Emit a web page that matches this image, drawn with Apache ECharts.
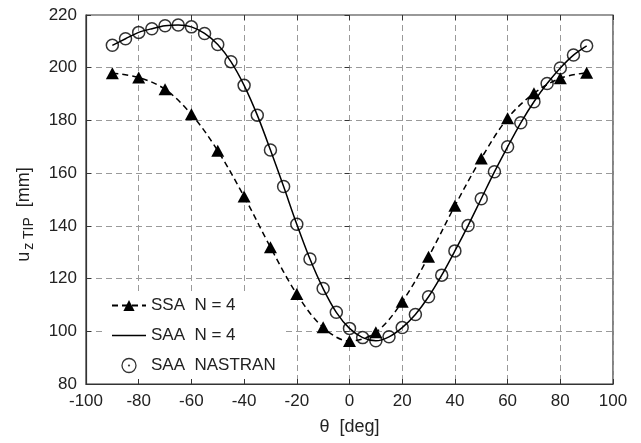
<!DOCTYPE html>
<html>
<head>
<meta charset="utf-8">
<script src="https://cdn.jsdelivr.net/npm/echarts@6/dist/echarts.min.js"></script>
<style>
html,body{margin:0;padding:0;background:#fff;}
#chart{width:641px;height:443px;}
</style>
</head>
<body>
<div id="chart"></div>
<script>
// θ [deg] sampling for the SAA curves (every 5 deg)
var theta5 = [-90,-85,-80,-75,-70,-65,-60,-55,-50,-45,-40,-35,-30,-25,-20,-15,-10,-5,0,5,10,15,20,25,30,35,40,45,50,55,60,65,70,75,80,85,90];
// SAA NASTRAN (circles)
var saaNastran = [208.5,211,213.4,214.8,215.9,216.2,215.5,213,208.8,202.3,193.3,182,168.8,154.9,140.6,127.4,116.2,107.2,101.1,97.6,96.4,97.9,101.4,106.4,113.1,121.3,130.5,140.1,150.3,160.5,170.0,179.1,187.1,194.0,199.9,204.8,208.3];
// SAA N = 4 (solid line)
var saaN4 = [208.5,211,213.4,214.8,215.9,216.2,215.5,213,208.8,202.3,193.3,182,168.8,154.9,140.6,127.4,116.2,107.2,101.1,97.6,96.4,97.9,101.4,106.4,113.1,121.3,130.5,140.1,150.3,160.5,170.0,179.1,187.1,194.0,199.9,204.8,208.3];
// θ sampling for SSA (every 10 deg)
var theta10 = [-90,-80,-70,-60,-50,-40,-30,-20,-10,0,10,20,30,40,50,60,70,80,90];
// SSA N = 4 (dashed with triangles)
var ssaN4 = [197.9,196.3,191.8,182.3,168.5,151.1,131.9,114.1,101.5,96.3,99.6,111.2,128.3,147.6,165.6,180.8,190.3,196.0,198.1];

var seriesNames = ['SSA  N = 4', 'SAA  N = 4', 'SAA  NASTRAN'];
var xTicks = {min: -100, max: 100, interval: 20};
var yTicks = {min: 80, max: 220, interval: 20};

function pairs(xs, ys){ return xs.map(function(x,i){ return [x, ys[i]]; }); }

var FONT = 'Liberation Sans, Arial, Helvetica, sans-serif';
var chart = echarts.init(document.getElementById('chart'), null, {renderer:'canvas'});
var gridLine = {show:true, lineStyle:{color:'#9a9a9a', width:1, type:[6,4]}};

chart.setOption({
  animation:false,
  backgroundColor:'#fff',
  textStyle:{fontFamily:FONT},
  grid:{left:86, right:28, top:15, bottom:59, show:true, borderColor:'#333', borderWidth:1.2, backgroundColor:'transparent'},
  legend:{
    left:104, top:292, orient:'vertical',
    padding:[5,9,5,7], itemGap:13, itemWidth:34, itemHeight:14,
    backgroundColor:'#fff',
    textStyle:{fontFamily:FONT, fontSize:17, color:'#222'},
    data:[
      {name:seriesNames[0]},
      {name:seriesNames[1], icon:'path://M0,0H34V1.5H0Z', itemStyle:{color:'#000', borderWidth:0}},
      {name:seriesNames[2], icon:'path://M0,-6A6,6 0 1 1 0,6A6,6 0 1 1 0,-6Z M0,-0.4A0.4,0.4 0 1 1 0,0.4A0.4,0.4 0 1 1 0,-0.4Z',
       itemStyle:{color:'transparent', borderColor:'#000', borderWidth:1.3}}
    ]
  },
  xAxis:[{
    type:'value', min:xTicks.min, max:xTicks.max, interval:xTicks.interval,
    name:'θ  [deg]', nameLocation:'middle', nameGap:34,
    nameTextStyle:{fontFamily:FONT, fontSize:18, color:'#222'},
    axisLine:{show:true, onZero:false, lineStyle:{color:'#333', width:1.2}},
    axisTick:{show:true, inside:true, length:5, lineStyle:{color:'#333'}},
    axisLabel:{fontFamily:FONT, fontSize:17, color:'#222', margin:9},
    splitLine:gridLine
  },{
    type:'value', position:'top', min:xTicks.min, max:xTicks.max, interval:xTicks.interval,
    axisLine:{show:false}, axisTick:{show:true, inside:true, length:5, lineStyle:{color:'#333'}},
    axisLabel:{show:false}, splitLine:{show:false}
  }],
  yAxis:[{
    type:'value', min:yTicks.min, max:yTicks.max, interval:yTicks.interval,
    name:'{m|u}{s|z TIP}{m|  [mm]}', nameLocation:'middle', nameGap:52,
    nameTextStyle:{fontFamily:FONT, color:'#222', padding:[0,30,0,0],
      rich:{m:{fontFamily:FONT, fontSize:18, color:'#222', lineHeight:20},
            s:{fontFamily:FONT, fontSize:14, color:'#222', lineHeight:20, padding:[10,0,0,2]}}},
    axisLine:{show:true, onZero:false, lineStyle:{color:'#333', width:1.2}},
    axisTick:{show:true, inside:true, length:5, lineStyle:{color:'#333'}},
    axisLabel:{fontFamily:FONT, fontSize:17, color:'#222', margin:9},
    splitLine:gridLine
  },{
    type:'value', position:'right', min:yTicks.min, max:yTicks.max, interval:yTicks.interval,
    axisLine:{show:false}, axisTick:{show:true, inside:true, length:5, lineStyle:{color:'#333'}},
    axisLabel:{show:false}, splitLine:{show:false}
  }],
  series:[
    {
      name:seriesNames[0], type:'line', data:pairs(theta10, ssaN4),
      smooth:0.35, symbol:'triangle', symbolSize:[13,12], showSymbol:true,
      itemStyle:{color:'#000'},
      lineStyle:{color:'#000', width:1.5, type:[6,4]},
      z:3
    },
    {
      name:seriesNames[1], type:'line', data:pairs(theta5, saaN4),
      smooth:0.3, symbol:'none', showSymbol:false,
      itemStyle:{color:'#000'},
      lineStyle:{color:'#000', width:1.5},
      z:2
    },
    {
      name:seriesNames[2], type:'scatter', data:pairs(theta5, saaNastran),
      symbol:'circle', symbolSize:12,
      itemStyle:{color:'transparent', borderColor:'#000', borderWidth:1.5},
      z:4
    }
  ]
});
</script>
</body>
</html>
